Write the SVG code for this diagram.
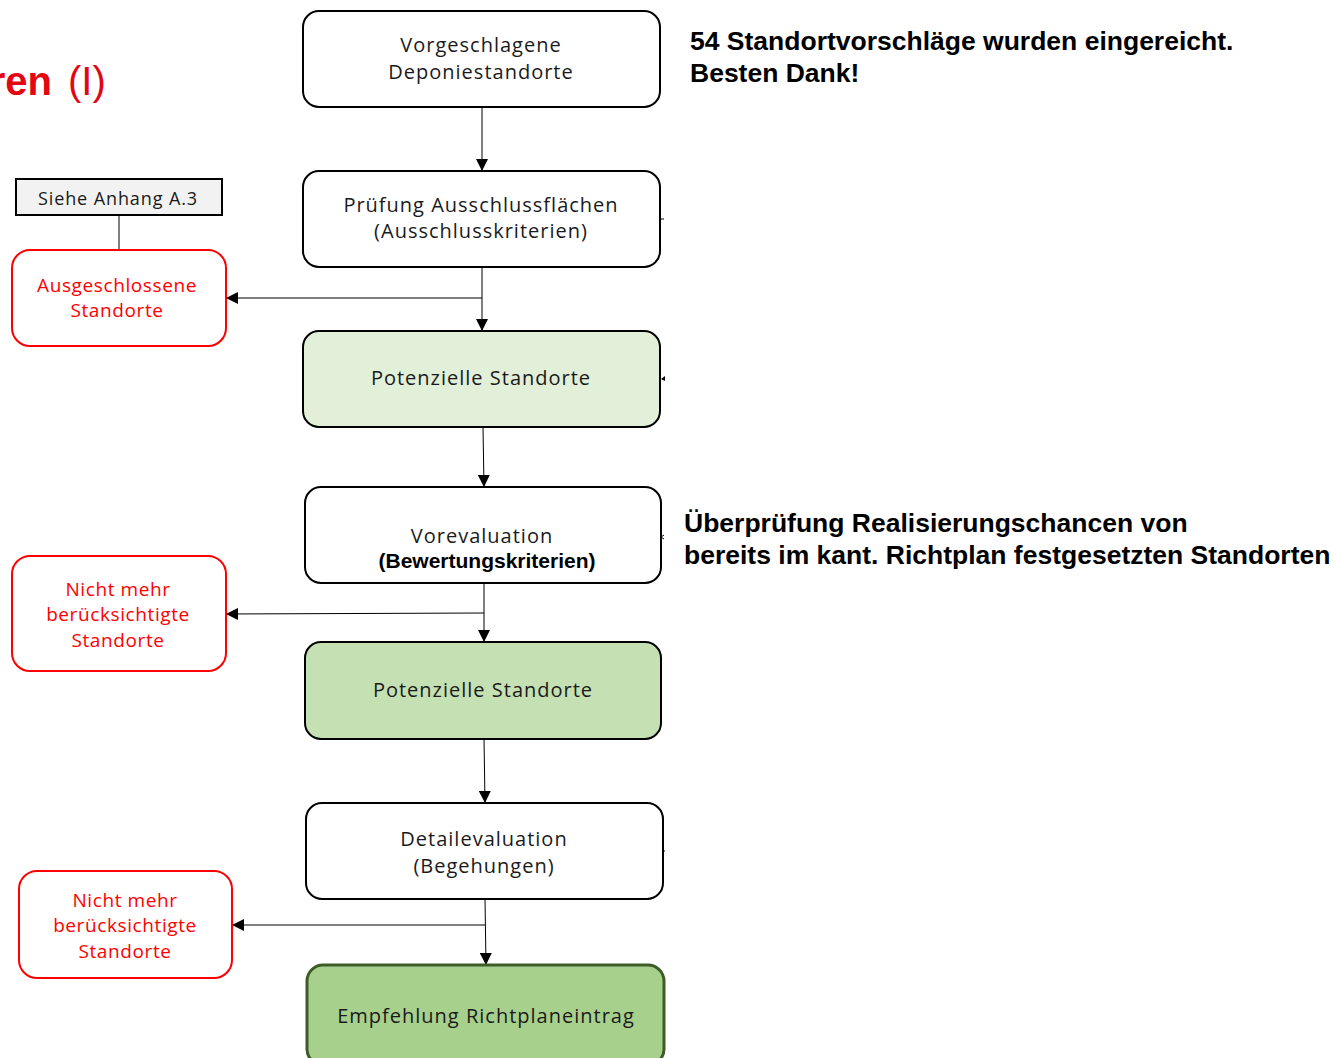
<svg xmlns="http://www.w3.org/2000/svg" width="1336" height="1058" viewBox="0 0 1336 1058">
<defs>
<marker id="ah" viewBox="0 0 10 10" refX="10" refY="5" markerWidth="12" markerHeight="12" markerUnits="userSpaceOnUse" orient="auto"><path d="M0,0 L10,5 L0,10 z" fill="#000"/></marker>
<style>
.n{stroke:#000;stroke-width:2;}
.t{font-family:"Open Sans","DejaVu Sans",sans-serif;font-size:20px;letter-spacing:1px;fill:#1a1a1a;text-anchor:middle;}
.r{font-family:"Open Sans","DejaVu Sans",sans-serif;font-size:19px;letter-spacing:0.6px;fill:#ff0000;text-anchor:middle;}
.rb{fill:#fff;stroke:#ff0000;stroke-width:2;}
.c{stroke:#000;stroke-width:1;fill:none;}
.b{font-family:"Liberation Sans",Arial,sans-serif;font-size:26.5px;font-weight:bold;fill:#000;}
</style>
</defs>
<rect width="1336" height="1058" fill="#fff"/>
<g id="title">
<text x="52" y="95" font-family="Liberation Sans,Arial,sans-serif" font-size="40" font-weight="bold" fill="#e30613" text-anchor="end">ren</text>
<text x="68" y="95" font-family="Liberation Sans,Arial,sans-serif" font-size="40" fill="#e30613">(I)</text>
</g>
<g id="note1">
<text class="b" x="690" y="50">54 Standortvorschläge wurden eingereicht.</text>
<text class="b" x="690" y="82">Besten Dank!</text>
</g>
<g id="note2">
<text class="b" x="684" y="532">Überprüfung Realisierungschancen von</text>
<text class="b" x="684" y="564">bereits im kant. Richtplan festgesetzten Standorten</text>
</g>
<g id="connectors">
<line class="c" x1="482" y1="107" x2="482" y2="171" marker-end="url(#ah)"/>
<line class="c" x1="482" y1="267" x2="482" y2="331" marker-end="url(#ah)"/>
<line class="c" x1="482" y1="298" x2="226" y2="298" marker-end="url(#ah)"/>
<line class="c" x1="483" y1="427" x2="484" y2="487" marker-end="url(#ah)"/>
<line class="c" x1="484" y1="583" x2="484" y2="642" marker-end="url(#ah)"/>
<line class="c" x1="484" y1="613" x2="226" y2="614" marker-end="url(#ah)"/>
<line class="c" x1="484" y1="739" x2="485" y2="803" marker-end="url(#ah)"/>
<line class="c" x1="485" y1="899" x2="486" y2="965" marker-end="url(#ah)"/>
<line class="c" x1="485" y1="925" x2="232" y2="925" marker-end="url(#ah)"/>
<line class="c" x1="119" y1="215" x2="119" y2="250"/>
<line class="c" x1="660" y1="219" x2="664" y2="219"/>
<path d="M665,376 L661,379 L665,381 z" fill="#000"/>
<path d="M664,535 L661,537 L664,539" class="c"/>
<line class="c" x1="663" y1="851" x2="665" y2="851"/>
</g>
<g id="n1">
<rect class="n" x="303" y="11" width="357" height="96" rx="16" fill="#fff"/>
<text class="t" x="481" y="52">Vorgeschlagene</text>
<text class="t" x="481" y="79">Deponiestandorte</text>
</g>
<g id="n2">
<rect class="n" x="303" y="171" width="357" height="96" rx="16" fill="#fff"/>
<text class="t" x="481" y="212">Prüfung Ausschlussflächen</text>
<text class="t" x="481" y="238">(Ausschlusskriterien)</text>
</g>
<g id="n3">
<rect class="n" x="303" y="331" width="357" height="96" rx="16" fill="#e2efd9"/>
<text class="t" x="481" y="385">Potenzielle Standorte</text>
</g>
<g id="n4">
<rect class="n" x="305" y="487" width="356" height="96" rx="16" fill="#fff"/>
<text class="t" x="482" y="543">Vorevaluation</text>
<text x="487" y="568" font-family="Liberation Sans,Arial,sans-serif" font-size="21" font-weight="bold" text-anchor="middle">(Bewertungskriterien)</text>
</g>
<g id="n5">
<rect class="n" x="305" y="642" width="356" height="97" rx="16" fill="#c5e0b3"/>
<text class="t" x="483" y="697">Potenzielle Standorte</text>
</g>
<g id="n6">
<rect class="n" x="306" y="803" width="357" height="96" rx="16" fill="#fff"/>
<text class="t" x="484" y="846">Detailevaluation</text>
<text class="t" x="484" y="873">(Begehungen)</text>
</g>
<g id="n7">
<rect x="307" y="965" width="357" height="100" rx="16" fill="#a8d08d" stroke="#3d5c27" stroke-width="3"/>
<text class="t" x="486" y="1023">Empfehlung Richtplaneintrag</text>
</g>
<g id="siehe">
<rect x="16" y="179" width="206" height="36" fill="#f2f2f2" stroke="#000" stroke-width="2"/>
<text x="118" y="205" font-family="Open Sans,DejaVu Sans,sans-serif" font-size="18" letter-spacing="0.9" fill="#1a1a1a" text-anchor="middle">Siehe Anhang A.3</text>
</g>
<g id="aus">
<rect class="rb" x="12" y="250" width="214" height="96" rx="18"/>
<text class="r" x="117" y="292">Ausgeschlossene</text>
<text class="r" x="117" y="317">Standorte</text>
</g>
<g id="nm1">
<rect class="rb" x="12" y="556" width="214" height="115" rx="18"/>
<text class="r" x="118" y="596">Nicht mehr</text>
<text class="r" x="118" y="621">berücksichtigte</text>
<text class="r" x="118" y="647">Standorte</text>
</g>
<g id="nm2">
<rect class="rb" x="19" y="871" width="213" height="107" rx="18"/>
<text class="r" x="125" y="907">Nicht mehr</text>
<text class="r" x="125" y="932">berücksichtigte</text>
<text class="r" x="125" y="958">Standorte</text>
</g>
</svg>
